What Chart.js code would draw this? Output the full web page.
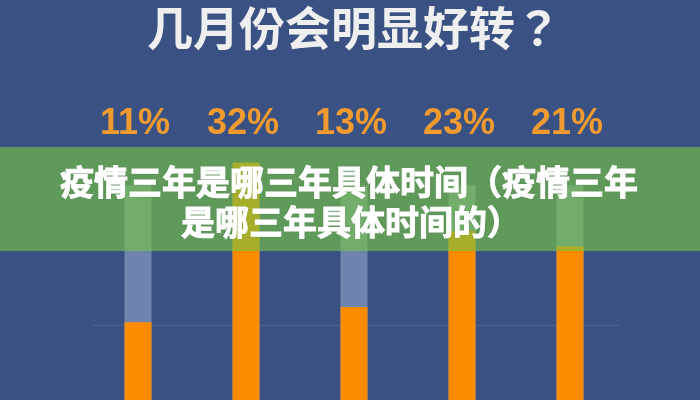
<!DOCTYPE html>
<html>
<head>
<meta charset="utf-8">
<script src="https://cdn.jsdelivr.net/npm/chart.js@4"></script>
<style>
  html, body { margin: 0; padding: 0; background: #3a5283; overflow: hidden; }
  #wrap { width: 700px; height: 400px; position: relative; }
  canvas { display: block; }
</style>
</head>
<body>
<div id="wrap"><canvas id="c" width="700" height="400"></canvas></div>
<script>
const categories = ['A', 'B', 'C', 'D', 'E'];
const percentValues = [11, 32, 13, 23, 21];
const trackValues = [29, 29, 29, 29, 29];
const percentLabels = ['11%', '32%', '13%', '23%', '21%'];
const titleText = '几月份会明显好转？';
const bannerLines = ['疫情三年是哪三年具体时间（疫情三年', '是哪三年具体时间的）'];
const gridValue = 10.6;

const overlayPlugin = {
  id: 'overlay',
  beforeDatasetsDraw(chart) {
    const ctx = chart.ctx, a = chart.chartArea, y = chart.scales.y;
    const py = Math.round(y.getPixelForValue(gridValue)) + 0.5;
    ctx.save();
    ctx.strokeStyle = 'rgba(255,255,255,0.09)';
    ctx.lineWidth = 1;
    ctx.beginPath();
    ctx.moveTo(a.left + 8, py);
    ctx.lineTo(a.right - 4, py);
    ctx.stroke();
    ctx.restore();
  },
  afterDraw(chart) {
    const ctx = chart.ctx, x = chart.scales.x;
    ctx.save();
    ctx.fillStyle = '#f09a30';
    ctx.font = 'bold 36px "Liberation Sans Narrow", "Liberation Sans", sans-serif';
    ctx.textAlign = 'center';
    ctx.textBaseline = 'middle';
    percentLabels.forEach((t, i) => {
      ctx.fillText(t, x.getPixelForValue(i) - 3, 124);
    });
    ctx.fillStyle = 'rgba(117,196,66,0.63)';
    ctx.fillRect(0, 147, chart.width, 104);
    ctx.fillStyle = '#ffffff';
    ctx.strokeStyle = '#ffffff';
    ctx.lineWidth = 1;
    ctx.font = 'bold 34px "Noto Sans CJK SC", sans-serif';
    ctx.shadowColor = 'rgba(0,0,0,0.25)';
    ctx.shadowBlur = 2;
    ctx.fillText(bannerLines[0], 349, 182);
    ctx.fillText(bannerLines[1], 351, 222);
    ctx.shadowColor = 'transparent';
    ctx.strokeText(bannerLines[0], 349, 182);
    ctx.strokeText(bannerLines[1], 351, 222);
    ctx.restore();
  }
};

new Chart(document.getElementById('c'), {
  type: 'bar',
  data: {
    labels: categories,
    datasets: [
      {
        data: percentValues,
        backgroundColor: '#fb8c00',
        categoryPercentage: 1,
        barPercentage: 0.25,
        grouped: false
      },
      {
        data: trackValues,
        backgroundColor: '#6f85b0',
        categoryPercentage: 1,
        barPercentage: 0.25,
        grouped: false
      }
    ]
  },
  options: {
    responsive: false,
    animation: false,
    devicePixelRatio: 1,
    layout: { padding: { left: 84, right: 76, top: 0, bottom: 0 } },
    plugins: {
      legend: { display: false },
      tooltip: { enabled: false },
      title: {
        display: true,
        text: titleText,
        color: '#efefef',
        font: { family: '"Noto Sans CJK TC", "Noto Sans CJK SC", sans-serif', size: 46, weight: 'bold' },
        padding: { top: 0, bottom: 44.8 }
      }
    },
    scales: {
      x: { display: false },
      y: { display: false, min: 0.79, max: 40.2 }
    }
  },
  plugins: [overlayPlugin]
});
</script>
</body>
</html>
